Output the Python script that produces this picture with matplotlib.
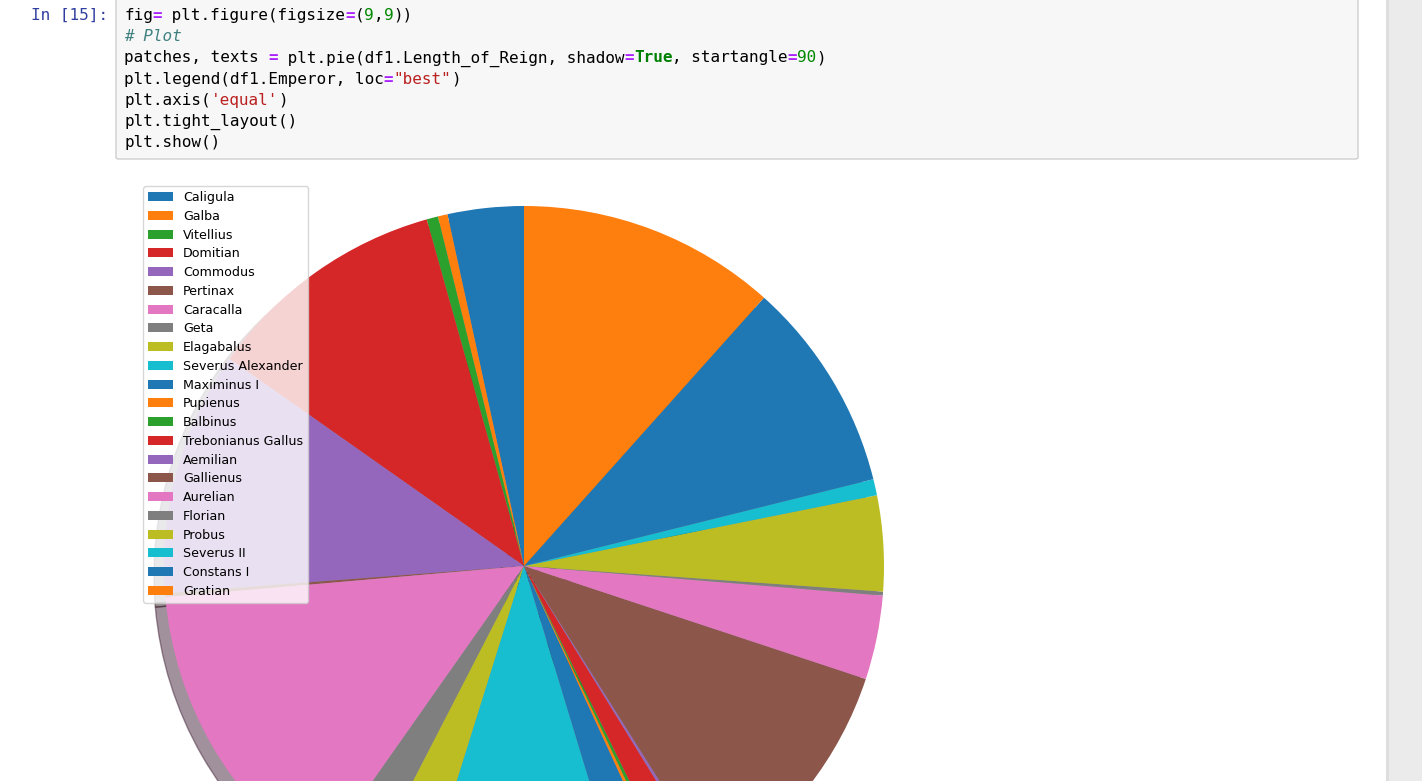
import matplotlib.pyplot as plt
from matplotlib.patches import FancyBboxPatch, Rectangle


# Pie data: emperor and length of reign (years)
emperors = ['Caligula', 'Galba', 'Vitellius', 'Domitian', 'Commodus',
            'Pertinax', 'Caracalla', 'Geta', 'Elagabalus',
            'Severus Alexander', 'Maximinus I', 'Pupienus', 'Balbinus',
            'Trebonianus Gallus', 'Aemilian', 'Gallienus', 'Aurelian',
            'Florian', 'Probus', 'Severus II', 'Constans I', 'Gratian']
reign = [4.7, 0.6, 0.7, 15.0, 15.1, 0.24, 19.1, 3.0, 3.8, 13.1, 3.0,
         0.27, 0.27, 2.1, 0.24, 15.1, 5.2, 0.24, 5.9, 1.0, 13.1, 16.0]

# Code cell text: list of (text, colour, weight, style) segments per line
code_lines = [
    [('fig', '#000000', 'normal', 'normal'), ('=', '#AA22FF', 'bold', 'normal'),
     (' plt.figure(figsize', '#000000', 'normal', 'normal'),
     ('=', '#AA22FF', 'bold', 'normal'), ('(', '#000000', 'normal', 'normal'),
     ('9', '#008800', 'normal', 'normal'), (',', '#000000', 'normal', 'normal'),
     ('9', '#008800', 'normal', 'normal'), ('))', '#000000', 'normal', 'normal')],
    [('# Plot', '#408080', 'normal', 'italic')],
    [('patches, texts ', '#000000', 'normal', 'normal'),
     ('=', '#AA22FF', 'bold', 'normal'),
     (' plt.pie(df1.Length_of_Reign, shadow', '#000000', 'normal', 'normal'),
     ('=', '#AA22FF', 'bold', 'normal'), ('True', '#008000', 'bold', 'normal'),
     (', startangle', '#000000', 'normal', 'normal'),
     ('=', '#AA22FF', 'bold', 'normal'), ('90', '#008800', 'normal', 'normal'),
     (')', '#000000', 'normal', 'normal')],
    [('plt.legend(df1.Emperor, loc', '#000000', 'normal', 'normal'),
     ('=', '#AA22FF', 'bold', 'normal'), ('"best"', '#BA2121', 'normal', 'normal'),
     (')', '#000000', 'normal', 'normal')],
    [('plt.axis(', '#000000', 'normal', 'normal'),
     ("'equal'", '#BA2121', 'normal', 'normal'), (')', '#000000', 'normal', 'normal')],
    [('plt.tight_layout()', '#000000', 'normal', 'normal')],
    [('plt.show()', '#000000', 'normal', 'normal')],
]

W, H = 1422, 781
fig = plt.figure(figsize=(W / 100, H / 100), dpi=100)
fig.patch.set_facecolor('white')


def fx(px):
    return px / W


def fy(py):
    return 1 - py / H


# Scrollbar strip on the right
fig.patches.append(Rectangle((fx(1386), 0), fx(36), 1, transform=fig.transFigure,
                             facecolor='#ebebeb', edgecolor='none', zorder=0))
fig.patches.append(Rectangle((fx(1386), 0), fx(3), 1, transform=fig.transFigure,
                             facecolor='#dedede', edgecolor='none', zorder=0))

# Code cell box
fig.patches.append(FancyBboxPatch((fx(116), fy(159)), fx(1358 - 116), fy(-5) - fy(159),
                                  boxstyle='round,pad=0,rounding_size=0.002',
                                  transform=fig.transFigure, facecolor='#f7f7f7',
                                  edgecolor='#cfcfcf', linewidth=1, zorder=1))

mono = 'DejaVu Sans Mono'
fsize = 11.5
char_w = 9.62
fig.text(fx(108), fy(20), 'In [15]:', color='#303F9F', family=mono, fontsize=fsize,
         ha='right', va='baseline')
for i, segs in enumerate(code_lines):
    col = 0
    base = 20 + i * 21.17
    for txt, c, wgt, sty in segs:
        fig.text(fx(124 + col * char_w), fy(base), txt, color=c, family=mono,
                 fontsize=fsize, fontweight=wgt, fontstyle=sty,
                 ha='left', va='baseline')
        col += len(txt)

# Pie axes: centre at (524, 566) px, radius 360 px
r = 360
half = 400
ax = fig.add_axes([fx(524 - half), fy(566 + half), fx(2 * half), 2 * half / H])
patches, texts = ax.pie(reign, shadow=True, startangle=90)
ax.set_xlim(-half / r, half / r)
ax.set_ylim(-half / r, half / r)
ax.set_aspect('equal')
ax.axis('off')

leg = fig.legend(patches, emperors, loc='upper left',
                 bbox_to_anchor=(fx(143), fy(186)), bbox_transform=fig.transFigure,
                 borderaxespad=0, fontsize=9.1, labelspacing=0.455,
                 handlelength=1.97)

fig.savefig('out.png', dpi=100)
